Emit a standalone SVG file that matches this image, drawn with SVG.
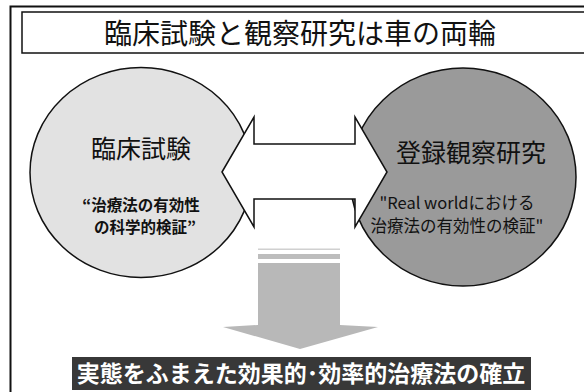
<svg xmlns="http://www.w3.org/2000/svg" width="584" height="392" viewBox="0 0 584 392">
<style>
text{font-family:"Noto Sans CJK JP","Noto Sans",sans-serif;text-anchor:middle}
.frame{fill:none;stroke:#111;stroke-width:2}
.title{font-size:28px;fill:#111}
.head{font-size:25px;fill:#111}
.subL{font-size:15.5px;font-weight:bold;fill:#111}
.subR{font-size:16.5px;fill:#111}
.banner{font-size:23px;font-weight:bold;fill:#fff}
.edge{stroke:#111;stroke-width:1.5}
</style>
<rect x="0" y="0" width="584" height="392" fill="#fff"/>
<rect class="frame" x="10.5" y="6.5" width="600" height="400"/>
<g id="title">
<rect x="22" y="12" width="600" height="41" fill="#fff" stroke="#111" stroke-width="1.5"/>
<text class="title" x="300" y="44">臨床試験と観察研究は車の両輪</text>
</g>
<g id="clinical">
<ellipse class="edge" cx="141" cy="172.5" rx="111" ry="105" fill="#e2e2e2"/>
<text class="head" x="141" y="158">臨床試験</text>
<text class="subL" x="141" y="211">“治療法の有効性</text>
<text class="subL" x="145" y="233">の科学的検証”</text>
</g>
<g id="registry">
<ellipse class="edge" cx="463" cy="177" rx="113" ry="109" fill="#9a9a9a"/>
<text class="head" x="471" y="162">登録観察研究</text>
<text class="subR" x="457" y="209">"Real worldにおける</text>
<text class="subR" x="457" y="232">治療法の有効性の検証"</text>
</g>
<g id="connectors">
<polygon class="edge" fill="#fff" stroke-linejoin="miter" points="222,172 254,117 254,144 355,144 355,117 387,172 355,227 355,199 254,199 254,227"/>
<g id="down-arrow">
<rect x="258" y="248.5" width="82" height="1.5" fill="#d0d0d0"/>
<rect x="258" y="254" width="82" height="5" fill="#bdbdbd"/>
<polygon fill="#b8b8b8" points="258,263 340,263 340,325 378,327 300,349 223,327 258,325"/>
</g>
</g>
<g id="result">
<rect x="72" y="357" width="459" height="33" fill="#383838"/>
<text class="banner" x="301" y="382">実態をふまえた効果的･効率的治療法の確立</text>
</g>
</svg>
